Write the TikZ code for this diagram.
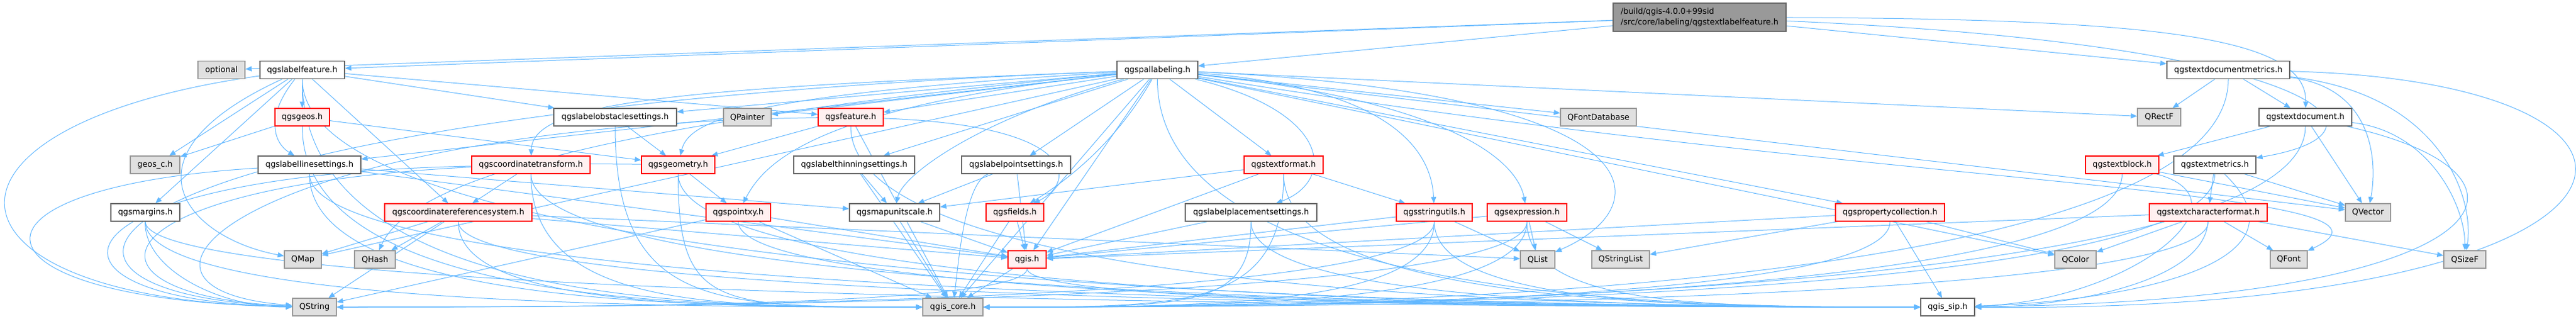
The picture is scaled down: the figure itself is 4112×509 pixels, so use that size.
\documentclass[tikz,border=0pt]{standalone}
\usepackage{fontspec}
\setmainfont{DejaVu Sans}
\usetikzlibrary{arrows.meta,backgrounds,calc}
\definecolor{edgec}{HTML}{63B8FF}
\definecolor{wbord}{HTML}{666666}
\definecolor{gbord}{HTML}{999999}
\definecolor{gfill}{HTML}{E0E0E0}
\definecolor{rfill}{HTML}{FFF0F0}
\definecolor{rootfill}{HTML}{999999}
\newcommand\hubr[3]{\draw[edg] (#1.south) .. controls ($(#1.south)+(0,-#3)$) and ($(#2.west)+(-333,0)$) .. (#2.west);}
\newcommand\hubl[3]{\draw[edg] (#1.south) .. controls ($(#1.south)+(0,-#3)$) and ($(#2.east)+(333,0)$) .. (#2.east);}
\begin{document}
\begin{tikzpicture}[x=0.75pt,y=0.75pt,
  box/.style={inner sep=0pt, minimum height=21pt, line width=1pt, font=\fontsize{9.6}{12.75}\selectfont},
  bw/.style={minimum width=#1*0.75pt},
  wn/.style={box, draw=wbord, fill=white},
  gn/.style={box, draw=gbord, fill=gfill},
  rn/.style={box, draw=red, fill=rfill},
  edg/.style={draw=edgec, line width=0.75pt, -{Triangle[length=7.5pt,width=6pt]}},
]
\useasboundingbox (0,0) rectangle (4112,-509);
% root
\node[box, draw=wbord, fill=rootfill, bw=276, minimum height=33.75pt, align=left] (root) at (2713,-27.5) {/build/qgis-4.0.0+99sid\\/src/core/labeling/qgstextlabelfeature.h};
% row 1
\node[gn,bw=75] (opt) at (353.5,-111.5) {optional};
\node[wn,bw=135] (lf) at (482.5,-111.5) {qgslabelfeature.h};
\node[wn,bw=129] (pal) at (1847.5,-111.5) {qgspallabeling.h};
\node[wn,bw=196] (tdm) at (3557,-111.5) {qgstextdocumentmetrics.h};
% row 2
\node[rn,bw=87] (geos) at (482.5,-187) {qgsgeos.h};
\node[wn,bw=196] (obs) at (982,-187) {qgslabelobstaclesettings.h};
\node[gn,bw=76] (qpainter) at (1193,-187) {QPainter};
\node[rn,bw=104] (feat) at (1358,-187) {qgsfeature.h};
\node[gn,bw=121] (qfdb) at (2551.5,-187) {QFontDatabase};
\node[gn,bw=69] (qrectf) at (3446.5,-187) {QRectF};
\node[wn,bw=148] (tdoc) at (3680,-187) {qgstextdocument.h};
% row 3
\node[gn,bw=79] (geosc) at (247.5,-263) {geos\_c.h};
\node[wn,bw=164] (lls) at (494,-263) {qgslabellinesettings.h};
\node[rn,bw=189] (ctr) at (847.5,-263) {qgscoordinatetransform.h};
\node[rn,bw=117] (geom) at (1082.5,-263) {qgsgeometry.h};
\node[wn,bw=193] (thin) at (1363.5,-263) {qgslabelthinningsettings.h};
\node[wn,bw=174] (lps) at (1622,-263) {qgslabelpointsettings.h};
\node[rn,bw=126] (tfmt) at (2049,-263) {qgstextformat.h};
\node[rn,bw=117] (tblk) at (3387.5,-263) {qgstextblock.h};
\node[wn,bw=131] (tmet) at (3535.5,-263) {qgstextmetrics.h};
% row 4
\node[wn,bw=110] (marg) at (232,-339) {qgsmargins.h};
\node[rn,bw=235] (crs) at (731.5,-339) {qgscoordinatereferencesystem.h};
\node[rn,bw=103] (pxy) at (1178.5,-339) {qgspointxy.h};
\node[wn,bw=144] (mus) at (1428,-339) {qgsmapunitscale.h};
\node[rn,bw=92] (flds) at (1620,-339) {qgsfields.h};
\node[wn,bw=210] (lpl) at (1997,-339) {qgslabelplacementsettings.h};
\node[rn,bw=121] (sutl) at (2289.5,-339) {qgsstringutils.h};
\node[rn,bw=127] (expr) at (2437.5,-339) {qgsexpression.h};
\node[rn,bw=174] (pcol) at (3017,-339) {qgspropertycollection.h};
\node[rn,bw=188] (tcf) at (3525,-339) {qgstextcharacterformat.h};
\node[gn,bw=72] (qvec) at (3780,-339) {QVector};
% row 5
\node[gn,bw=59] (qmap) at (483.5,-414) {QMap};
\node[gn,bw=65] (qhash) at (598.5,-414) {QHash};
\node[rn,bw=61] (qgis) at (1639.5,-414) {qgis.h};
\node[gn,bw=55] (qlist) at (2454.5,-414) {QList};
\node[gn,bw=92] (qsl) at (2587,-414) {QStringList};
\node[gn,bw=66] (qcolor) at (3313,-414) {QColor};
\node[gn,bw=59] (qfont) at (3653.5,-414) {QFont};
\node[gn,bw=67] (qsizef) at (3934.5,-414) {QSizeF};
% row 6
\node[gn,bw=70] (qstr) at (502,-490) {QString};
\node[gn,bw=96] (core) at (1521,-490) {qgis\_core.h};
\node[wn,bw=86] (sip) at (3109,-490) {qgis\_sip.h};

\begin{scope}[on background layer]
\fill[white] (0,0) rectangle (4112,-509);
% root
\draw[edg] (root) -- (opt);
\draw[edg] (root) -- (lf);
\draw[edg] (root) -- (pal);
\draw[edg] (root) -- (tdm);
\draw[edg] (root) .. controls (3450,-30) and (3683,-60) .. (tdoc);
\draw[edg] (root) .. controls (3700,-70) and (3850,-210) .. (tmet);
% qgslabelfeature
\draw[edg] (lf) -- (geos);
\draw[edg] (lf) -- (geosc);
\draw[edg] (lf) .. controls (420,-190) and (440,-230) .. (lls);
\draw[edg] (lf) -- (marg);
\draw[edg] (lf) -- (obs);
\draw[edg] (lf) -- (feat);
\draw[edg] (lf) -- (crs);
\draw[edg] (lf) .. controls (180,-250) and (300,-380) .. (qmap);
\draw[edg] (lf) .. controls (-150,-200) and (-120,-480) .. (qstr);
\hubr{lf}{core}{364}
\hubr{lf}{sip}{364}
% qgspallabeling
\draw[edg] (pal) -- (qpainter);
\draw[edg] (pal) -- (feat);
\draw[edg] (pal) -- (obs);
\draw[edg] (pal) .. controls (1200,-150) and (1100,-190) .. (geom);
\draw[edg] (pal) -- (lls);
\draw[edg] (pal) .. controls (1100,-140) and (850,-160) .. (ctr);
\draw[edg] (pal) -- (thin);
\draw[edg] (pal) -- (lps);
\draw[edg] (pal) .. controls (1300,-170) and (1220,-260) .. (pxy);
\draw[edg] (pal) .. controls (1560,-190) and (1440,-280) .. (mus);
\draw[edg] (pal) .. controls (1780,-230) and (1700,-290) .. (flds);
\draw[edg] (pal) -- (qgis);
\draw[edg] (pal) .. controls (2130,-180) and (2130,-290) .. (lpl);
\draw[edg] (pal) .. controls (2220,-140) and (2285,-240) .. (sutl);
\draw[edg] (pal) .. controls (2300,-160) and (2420,-250) .. (expr);
\draw[edg] (pal) -- (tfmt);
\draw[edg] (pal) -- (pcol);
\draw[edg] (pal) .. controls (2660,-150) and (2650,-330) .. (qlist);
\draw[edg] (pal) -- (qfdb);
\draw[edg] (pal) -- (qrectf);
\draw[edg] (pal) -- (qvec);
\draw[edg] (pal) .. controls (3000,-300) and (3900,-300) .. (qfont);
\draw[edg] (pal) -- (qcolor);
\draw[edg] (pal) .. controls (900,-200) and (650,-300) .. (qhash);
\draw[edg] (pal) -- (qmap);
\draw[edg] (pal) .. controls (60,-180) and (-40,-470) .. (qstr);
\draw[edg] (pal) -- (core);
\hubr{pal}{sip}{364}
% qgstextdocumentmetrics
\draw[edg] (tdm) -- (qrectf);
\draw[edg] (tdm) -- (tdoc);
\draw[edg] (tdm) .. controls (3790,-140) and (3795,-260) .. (qvec);
\draw[edg] (tdm) .. controls (3900,-150) and (3950,-320) .. (qsizef);
\draw[edg] (tdm) .. controls (4350,-130) and (4300,-500) .. (sip);
\hubl{tdm}{core}{364}
% qgsgeos
\draw[edg] (geos) -- (geosc);
\draw[edg] (geos) -- (geom);
\hubr{geos}{core}{289}
% qgslabelobstaclesettings
\draw[edg] (obs) -- (geom);
\hubr{obs}{core}{289}
% qgsfeature
\draw[edg] (feat) .. controls (1720,-200) and (1720,-290) .. (flds);
\draw[edg] (feat) -- (geom);
\draw[edg] (feat) -- (core);
\hubr{feat}{sip}{289}
\draw[edg] (feat) .. controls (400,-200) and (120,-460) .. (qstr);
% qgstextdocument
\draw[edg] (tdoc) -- (tblk);
\draw[edg] (tdoc) -- (qvec);
\draw[edg] (tdoc) .. controls (3880,-210) and (3935,-330) .. (qsizef);
\draw[edg] (tdoc) .. controls (4100,-280) and (4000,-480) .. (sip);
\hubl{tdoc}{core}{289}
% qgslabellinesettings
\draw[edg] (lls) .. controls (-100,-300) and (-60,-480) .. (qstr);
\hubr{lls}{core}{213}
\hubr{lls}{sip}{213}
\draw[edg] (lls) -- (mus);
\draw[edg] (lls) -- (qgis);
% qgscoordinatetransform
\draw[edg] (ctr) -- (crs);
\hubr{ctr}{core}{213}
\hubr{ctr}{sip}{213}
\draw[edg] (ctr) .. controls (60,-280) and (20,-480) .. (qstr);
% qgsgeometry
\draw[edg] (geom) -- (pxy);
\hubr{geom}{core}{213}
\hubr{geom}{sip}{213}
\draw[edg] (geom) .. controls (150,-250) and (60,-470) .. (qstr);
% qgslabelthinningsettings
\draw[edg] (thin) -- (mus);
\draw[edg] (thin) -- (core);
% qgslabelpointsettings
\draw[edg] (lps) -- (mus);
\draw[edg] (lps) .. controls (1540,-290) and (1530,-420) .. (core);
\draw[edg] (lps) -- (qgis);
% qgstextformat
\draw[edg] (tfmt) -- (sutl);
\hubl{tfmt}{core}{213}
\hubr{tfmt}{sip}{213}
\draw[edg] (tfmt) -- (qgis);
\draw[edg] (tfmt) -- (mus);
% qgstextblock
\draw[edg] (tblk) -- (qvec);
\draw[edg] (tblk) .. controls (3600,-320) and (3400,-480) .. (sip);
\hubl{tblk}{core}{213}
% qgstextmetrics
\draw[edg] (tmet) -- (tcf);
\draw[edg] (tmet) -- (qvec);
\hubl{tmet}{core}{213}
\draw[edg] (tmet) .. controls (3700,-420) and (3400,-480) .. (sip);
% qgsmargins
\draw[edg] (marg) .. controls (230,-430) and (350,-490) .. (qstr);
\hubr{marg}{core}{137}
\hubr{marg}{sip}{137}
% qgscoordinatereferencesystem
\draw[edg] (crs) -- (qmap);
\draw[edg] (crs) -- (qhash);
\draw[edg] (crs) -- (qstr);
\hubr{crs}{core}{137}
\hubr{crs}{sip}{137}
\draw[edg] (crs) -- (qgis);
\draw[edg] (crs) -- (qlist);
% qgspointxy
\draw[edg] (pxy) -- (qstr);
\draw[edg] (pxy) -- (core);
\draw[edg] (pxy) -- (qgis);
\hubr{pxy}{sip}{137}
% qgsmapunitscale
\draw[edg] (mus) -- (core);
\draw[edg] (mus) -- (qgis);
% qgsfields
\draw[edg] (flds) -- (qgis);
\draw[edg] (flds) -- (core);
% qgslabelplacementsettings
\draw[edg] (lpl) -- (qgis);
\hubl{lpl}{core}{137}
\hubr{lpl}{sip}{137}
% qgsstringutils
\draw[edg] (sutl) -- (qlist);
\hubl{sutl}{qstr}{137}
\hubl{sutl}{core}{137}
\draw[edg] (sutl) -- (qgis);
\hubr{sutl}{sip}{137}
% qgsexpression
\draw[edg] (expr) -- (qlist);
\draw[edg] (expr) -- (qsl);
\hubl{expr}{qstr}{137}
\hubl{expr}{core}{137}
\hubr{expr}{sip}{137}
\draw[edg] (expr) -- (qgis);
% qgspropertycollection
\draw[edg] (pcol) -- (qcolor);
\draw[edg] (pcol) -- (sip);
\hubl{pcol}{core}{137}
\draw[edg] (pcol) -- (qsl);
\draw[edg] (pcol) -- (qgis);
% qgstextcharacterformat
\draw[edg] (tcf) -- (qcolor);
\draw[edg] (tcf) -- (qfont);
\draw[edg] (tcf) -- (qsizef);
\hubl{tcf}{core}{137}
\draw[edg] (tcf) .. controls (3520,-450) and (3300,-490) .. (sip);
\draw[edg] (tcf) -- (qgis);
% qgis.h
\draw[edg] (qgis) -- (core);
\hubr{qgis}{sip}{62}
\hubl{qgis}{qstr}{62}
\end{scope}
\end{tikzpicture}
\end{document}
